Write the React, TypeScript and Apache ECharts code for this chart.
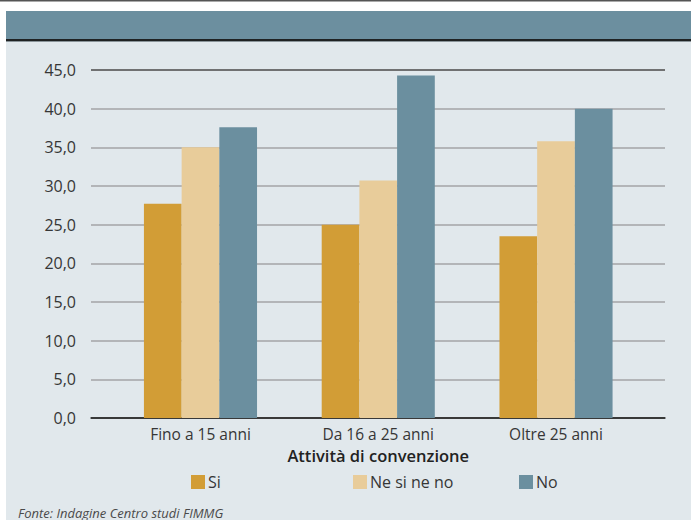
import React, { useEffect, useRef } from "react";
import * as echarts from "echarts";

const categories = ["Fino a 15 anni", "Da 16 a 25 anni", "Oltre 25 anni"];
const seriesNames = ["Si", "Ne si ne no", "No"];
const valuesSi = [27.7, 25.0, 23.5];
const valuesNe = [35.0, 30.7, 35.8];
const valuesNo = [37.6, 44.3, 40.0];
const seriesColors = ["#d29d36", "#e8cc9a", "#6b8f9f"];
const axisTitle = "Attività di convenzione";
const sourceText = "Fonte: Indagine Centro studi FIMMG";

const FONT = "Open Sans";
const TXT = "#363636";

export default function App() {
  const ref = useRef<HTMLDivElement>(null);
  useEffect(() => {
    document.body.style.margin = "0";
    const chart = echarts.init(ref.current!, null, { renderer: "svg" });
    const top = 70;
    const bottom = 102;
    const gridLineColors = ["#2e2e2e"];
    for (let i = 0; i < 8; i++) gridLineColors.push("#a3a5a7");
    gridLineColors.push("#4a4a4a");
    const values = [valuesSi, valuesNe, valuesNo];
    const legendLefts = [191, 353, 519];
    chart.setOption({
      animation: false,
      backgroundColor: "#ffffff",
      textStyle: { fontFamily: FONT },
      graphic: [
        { type: "rect", z: -100, shape: { x: 6, y: 11, width: 700, height: 520 }, style: { fill: "#e1e8ec" } },
        { type: "rect", z: -99, shape: { x: 6, y: 11, width: 700, height: 28 }, style: { fill: "#6c8f9f" } },
        { type: "rect", z: -98, shape: { x: 6, y: 39, width: 700, height: 2 }, style: { fill: "#1f2223" } },
        { type: "rect", z: -98, shape: { x: 6, y: 41, width: 700, height: 1 }, style: { fill: "#8a9499" } },
        { type: "rect", z: -98, shape: { x: 0, y: 0, width: 700, height: 1.5 }, style: { fill: "#555555" } },
        {
          type: "text",
          left: 18,
          top: 506,
          style: { text: sourceText, font: `italic 13px "${FONT}"`, fill: "#4a4a4a" },
        },
      ],
      grid: [
        { left: 91, right: 26, top, bottom },
        { left: 111.6, right: 46.1, top, bottom },
      ],
      xAxis: [
        {
          gridIndex: 0,
          type: "category",
          data: [""],
          axisLine: { show: true, lineStyle: { color: "#2e2e2e", width: 1.5 } },
          axisTick: { show: false },
          axisLabel: { show: false },
          splitLine: { show: false },
        },
        {
          gridIndex: 1,
          type: "category",
          data: categories,
          axisLine: { show: false },
          axisTick: { show: false },
          axisLabel: { color: TXT, fontSize: 15.5, fontFamily: FONT, margin: 8 },
          name: axisTitle,
          nameLocation: "middle",
          nameGap: 28,
          nameTextStyle: { color: "#222", fontSize: 16.5, fontWeight: 600, fontFamily: FONT },
        },
      ],
      yAxis: [
        {
          gridIndex: 0,
          type: "value",
          min: 0,
          max: 45,
          interval: 5,
          axisLine: { show: false },
          axisTick: { show: false },
          axisLabel: {
            color: TXT,
            fontSize: 16,
            fontFamily: FONT,
            margin: 15,
            formatter: (v: number) => v.toFixed(1).replace(".", ","),
          },
          splitLine: { show: true, lineStyle: { color: gridLineColors, width: 1.5 } },
        },
        {
          gridIndex: 1,
          type: "value",
          min: 0,
          max: 45,
          interval: 5,
          show: false,
          splitLine: { show: false },
        },
      ],
      legend: seriesNames.map((n, i) => ({
        data: [n],
        left: legendLefts[i],
        top: 474,
        padding: 0,
        itemWidth: 14,
        itemHeight: 14,
        icon: "rect",
        textStyle: { color: TXT, fontSize: 16, fontFamily: FONT, padding: [0, 0, 0, -2] },
      })),
      series: seriesNames.map((n, i) => ({
        name: n,
        type: "bar",
        xAxisIndex: 1,
        yAxisIndex: 1,
        data: values[i],
        barWidth: 37.7,
        barGap: "0%",
        itemStyle: { color: seriesColors[i] },
      })),
    });
    return () => chart.dispose();
  }, []);
  return <div ref={ref} style={{ width: 691, height: 520 }} />;
}
